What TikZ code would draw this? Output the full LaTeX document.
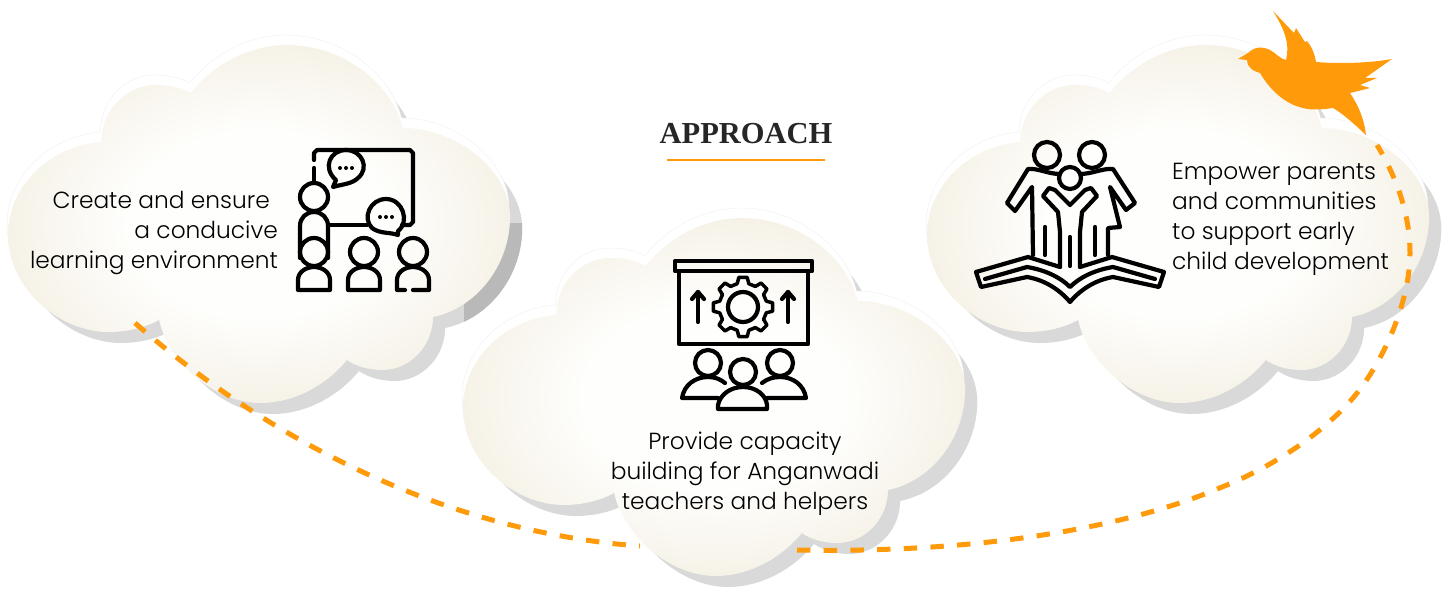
\documentclass[tikz,border=0pt]{standalone}
\usepackage{fontspec}
\setmainfont{Liberation Serif}
\newfontfamily\labelfont{Poppins Light}
\usetikzlibrary{positioning}

\definecolor{routeorange}{HTML}{FF9A0B}
\definecolor{cloudedge}{HTML}{F5F1E6}
\definecolor{cloudmid}{HTML}{FEFEFC}
\definecolor{cloudshadow}{HTML}{D9D9D9}
\definecolor{clouddark}{HTML}{B9B9B9}

\pgfdeclareradialshading{cloudshade}{\pgfpoint{0bp}{0bp}}{
  color(0bp)=(cloudmid); color(13bp)=(cloudmid); color(26bp)=(cloudedge); color(50bp)=(cloudedge)}

\tikzset{
  cloudfill/.style={shading=cloudshade, draw=none},
  cloudhalo/.style={fill=white, draw=black!6, line width=0.4pt},
  cloudlabel/.style={font=\labelfont\fontsize{23.3}{30}\selectfont, text=black, inner sep=0pt},
  routeline/.style={draw=routeorange, line width=5pt, dash pattern=on 13.4pt off 13.3pt},
  icon/.style={draw=black, line width=4.2pt, line cap=round, line join=round, fill=none},
}

\newcommand{\cloudoutline}{
  (100,142) .. controls (50,146) and (8,185) .. (8,235)
  .. controls (8,290) and (60,332) .. (107,332)
  .. controls (125,332) and (142,328) .. (157,320)
  .. controls (165,360) and (210,403) .. (257,403)
  .. controls (290,403) and (322,385) .. (342,360)
  .. controls (352,367) and (365,370) .. (377,370)
  .. controls (405,370) and (427,345) .. (427,317)
  .. controls (470,308) and (503,265) .. (503,217)
  .. controls (503,170) and (450,128) .. (397,128)
  .. controls (385,80) and (335,45) .. (283,45)
  .. controls (245,45) and (210,65) .. (188,93)
  .. controls (178,87) and (165,85) .. (153,85)
  .. controls (125,85) and (100,110) .. (100,142) -- cycle
}

\newcommand{\drawcloud}[3]{
  \begin{scope}[shift={(#1,#2)}, xscale=1.014]
    \path[fill=cloudshadow, shift={(12,11)}] \cloudoutline;
    \begin{scope}[shift={(12,11)}]
      \clip \cloudoutline;
      \fill[#3] (446,212) rectangle (530,330);
    \end{scope}
    \path[cloudhalo, shift={(-1,-10)}] \cloudoutline;
    \path[cloudfill] \cloudoutline;
  \end{scope}
}

\newcommand{\person}[3]{
  \draw[icon] (#1,#2) circle (14);
  \draw[icon] (#1-16,#2+38) -- (#1-16,#2+28) .. controls (#1-16,#2+20) and (#1-8,#2+15) .. (#1,#2+15)
    .. controls (#1+8,#2+15) and (#1+16,#2+20) .. (#1+16,#2+28) -- (#1+16,#2+38) #3;
}

\begin{document}
\begin{tikzpicture}[x=1pt, y=-1pt]
  \useasboundingbox (0,0) rectangle (1446,591);

  % Clouds
  \drawcloud{0}{0}{clouddark}
  \drawcloud{919}{0}{cloudshadow}

  % Route behind the middle cloud
  \coordinate (routestart) at (135,323);
  \coordinate (routehidden) at (640,546);
  \draw[routeline] (routestart) .. controls (290,458) and (470,534) .. (routehidden);

  \drawcloud{455}{173}{cloudshadow}

  % Route to the bird
  \coordinate (routeback) at (797,550);
  \coordinate (routelow) at (1222,487);
  \coordinate (routeup) at (1353,398);
  \coordinate (routeright) at (1410,253);
  \coordinate (routeend) at (1377,145);
  \draw[routeline] (routeback) .. controls (950,553) and (1110,535) .. (routelow)
    .. controls (1270,468) and (1320,436) .. (routeup)
    .. controls (1385,360) and (1410,300) .. (routeright)
    .. controls (1410,215) and (1397,178) .. (routeend);

  % Title
  \node[font=\bfseries\fontsize{30.5}{34}\selectfont, text=black!85, inner sep=0pt] (title) at (746,134) {APPROACH};
  \coordinate (ruleleft) at (667,160);
  \coordinate (ruleright) at (825,160);
  \draw[routeorange, line width=2pt] (ruleleft) -- (ruleright);

  % Labels
  \node[cloudlabel, align=right, anchor=east] (learning) at (278,233)
    {Create and ensure\hspace*{8pt}\\a conducive\hspace*{8pt}\\learning environment};
  \node[cloudlabel, align=center] (capacity) at (745,474)
    {Provide capacity\\building for Anganwadi\\teachers and helpers};
  \node[cloudlabel, align=left, anchor=west] (parents) at (1172,219)
    {Empower parents\\and communities\\to support early\\child development};

  % Classroom icon
  \draw[icon] (314,160) -- (314,153) -- ++(3,-3) -- (410,150) -- ++(3,3) -- (413,222) -- ++(-3,3) -- (402,225);
  \draw[icon] (314,168) -- (314,183);
  \draw[icon] (330,225) -- (367,225);
  \draw[icon] (333,187) -- (336,180) .. controls (322,168) and (330,150) .. (346,150)
    .. controls (362,150) and (370,168) .. (358,178) .. controls (352,184) and (343,184) .. (333,187) -- cycle;
  \draw[icon] (398,235) -- (398,231) .. controls (410,222) and (403,199) .. (386,199)
    .. controls (370,199) and (362,218) .. (372,228) .. controls (380,234) and (390,232) .. (398,235) -- cycle;
  \foreach \i in {-6,0,6} {
    \fill (346+\i,168) circle (2);
    \fill (386+\i,217) circle (2);
  }
  \draw[icon] (314,197) circle (14);
  \draw[icon] (300,258) -- (300,226) .. controls (300,218) and (306,212) .. (314,212)
    .. controls (322,212) and (328,218) .. (328,226) -- (328,258);
  \person{314}{252}{-- (298,290)}
  \person{364}{252}{-- (348,290)}
  \draw[icon] (413,252) circle (14);
  \draw[icon] (405,290) -- (397,290) -- (397,280) .. controls (397,272) and (405,267) .. (413,267)
    .. controls (421,267) and (429,272) .. (429,280) -- (429,290) -- (413,290);

  % Training icon
  \draw[icon] (675,261) rectangle (812,271);
  \draw[icon] (679,271) -- (679,344) -- (808,344) -- (808,271);
  \foreach \ax in {698,788} {
    \draw[icon] (\ax,322) -- (\ax,292);
    \draw[icon] (\ax-6,299) -- (\ax,292) -- (\ax+6,299);
  }
  \begin{scope}[shift={(743,307)}]
    \draw[icon] (0,0) circle (15);
    \foreach \a in {0,45,...,315} {
      \draw[icon, line width=3.5pt] (\a-14:24) -- (\a-8:30) -- (\a+8:30) -- (\a+14:24) -- (\a+31:24);
    }
  \end{scope}
  \draw[icon] (708,363) circle (13);
  \draw[icon] (780,363) circle (13);
  \draw[icon] (743,372) circle (13);
  \draw[icon] (718,398) -- (682,398) .. controls (684,385) and (695,377) .. (708,377) .. controls (715,377) and (720,379) .. (725,383);
  \draw[icon] (767,398) -- (806,398) .. controls (804,385) and (793,377) .. (780,377) .. controls (773,377) and (767,379) .. (762,383);
  \draw[icon] (718,409) -- (718,405) .. controls (720,395) and (730,387) .. (743,387)
    .. controls (756,387) and (766,395) .. (767,405) -- (767,409) -- cycle;

  % Family on a book icon
  \draw[icon] (1047,155) circle (13);
  \draw[icon] (1092,155) circle (13);
  \draw[icon] (1070,178) circle (11);
  \draw[icon] (1060,174) .. controls (1048,174) and (1038,168) .. (1028,169) -- (1007,203) -- (1015,211) -- (1032,187) -- (1033,255);
  \draw[icon] (1045,227) -- (1045,255);
  \draw[icon] (1080,174) .. controls (1092,174) and (1103,168) .. (1113,169) -- (1135,203) -- (1126,210) -- (1110,187) -- (1120,227) -- (1108,228) -- (1108,255);
  \draw[icon] (1095,227) -- (1095,255);
  \draw[icon] (1060,267) -- (1060,232) -- (1058,212) -- (1043,196) -- (1049,188) -- (1055,190) -- (1070,205)
    -- (1085,190) -- (1091,188) -- (1097,196) -- (1082,212) -- (1080,232) -- (1080,267);
  \draw[icon] (1070,237) -- (1070,266);
  % book
  \draw[icon] (1060,267) -- (1028,257) -- (976,272) -- (981,287) -- (1027,277) .. controls (1045,280) and (1060,290) .. (1070,302)
    .. controls (1080,290) and (1095,280) .. (1113,277) -- (1159,287) -- (1164,272) -- (1112,257) -- (1080,267);
  \draw[icon] (985,279) -- (1027,267) .. controls (1045,270) and (1060,277) .. (1070,287)
    .. controls (1080,277) and (1095,270) .. (1113,267) -- (1155,279);

  % Bird
  \fill[routeorange] (1238,59) -- (1248,53) .. controls (1254,47) and (1262,46) .. (1270,50)
    .. controls (1276,53) and (1280,59) .. (1286,60) .. controls (1290,45) and (1285,30) .. (1273,11)
    -- (1294,33) -- (1296,28) -- (1305,42) -- (1307,41) .. controls (1312,47) and (1315,55) .. (1316,62)
    .. controls (1340,64) and (1370,63) .. (1392,59) -- (1365,78) -- (1377,78) -- (1360,85) -- (1370,88) -- (1350,93)
    .. controls (1358,105) and (1364,118) .. (1366,135) .. controls (1355,125) and (1345,115) .. (1333,108)
    .. controls (1320,110) and (1310,110) .. (1303,108) .. controls (1285,104) and (1270,90) .. (1260,73)
    .. controls (1255,71) and (1248,70) .. (1247,60) -- cycle;
\end{tikzpicture}
\end{document}
